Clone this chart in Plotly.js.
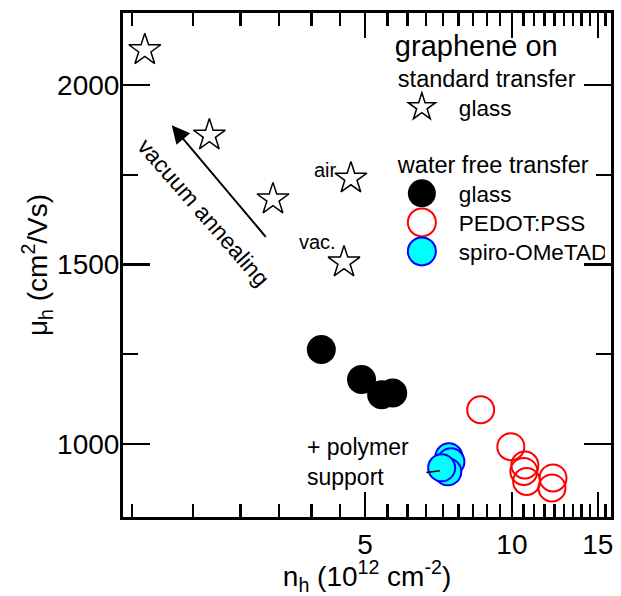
<!DOCTYPE html>
<html><head><meta charset="utf-8">
<script src="https://cdn.plot.ly/plotly-3.0.1.min.js"></script>
<style>body{margin:0;background:#fff}#chart{width:621px;height:596px}</style>
</head><body><div id="chart"></div>
<script>
// data (n_h in 1e12 cm^-2, mu_h in cm^2/Vs)
const starX = [1.77, 2.40, 3.24, 4.68, 4.53];
const starY = [2098, 1860, 1682, 1740, 1506];
const glassX = [4.07, 4.92, 5.41, 5.70];
const glassY = [1263, 1179, 1137, 1142];
const pedotX = [8.63, 9.95, 10.63, 10.58, 10.72, 12.14, 12.08];
const pedotY = [1095, 992, 941, 923, 895, 905, 877];
const spiroX = [7.43, 7.50, 7.39, 7.18];
const spiroY = [964, 950, 922, 933];

const xTickVals = [5, 10, 15];
const xTickText = ['5', '10', '15'];
const xMinorVals = [1.667, 2.222, 2.778, 3.333, 3.889, 4.444, 5.556, 6.111, 6.667, 7.222, 7.778, 8.333, 8.889, 9.444,
  10.556, 11.111, 11.667, 12.222, 12.778, 13.333, 13.889, 14.444, 15.556];
const yTickVals = [1000, 1500, 2000];
const yTickText = ['1000', '1500', '2000'];
const yMinorVals = [1250, 1750];

const FONT = 'Liberation Sans, Arial, sans-serif';
const L = Math.log10;

const traces = [
  {x: starX, y: starY, mode: 'markers', type: 'scatter', name: 'glass',
   legendgroup: 'std', legendgrouptitle: {text: 'standard transfer', font: {size: 23.5}},
   marker: {symbol: 'star', size: 24, color: 'white', line: {color: 'black', width: 1.5}}},
  {x: glassX, y: glassY, mode: 'markers', type: 'scatter', name: 'glass',
   legendgroup: 'wf', legendgrouptitle: {text: 'water free transfer', font: {size: 23.5}},
   marker: {symbol: 'circle', size: 29, color: 'black', line: {width: 0}}},
  {x: pedotX, y: pedotY, mode: 'markers', type: 'scatter', name: 'PEDOT:PSS',
   legendgroup: 'wf',
   marker: {symbol: 'circle-open', size: 27, color: '#ff0000', line: {width: 2}}},
  {x: spiroX, y: spiroY, mode: 'markers', type: 'scatter', name: 'spiro-OMeTAD',
   legendgroup: 'wf',
   marker: {symbol: 'circle', size: 27, color: '#00ffff', line: {color: '#0000ff', width: 2}}}
];

const axisCommon = {
  ticks: 'inside', tickwidth: 2.5, tickcolor: 'black', showline: true, linewidth: 3,
  linecolor: 'black', mirror: 'allticks', showgrid: false, zeroline: false,
  tickfont: {size: 28, color: 'black', family: FONT}
};

const layout = {
  width: 621, height: 596,
  margin: {l: 123, r: 10, t: 13, b: 79},
  paper_bgcolor: 'white', plot_bgcolor: 'white',
  font: {family: FONT, color: 'black'},
  showlegend: true,
  legend: {
    x: 0.553, y: 0.99, xanchor: 'left', yanchor: 'top',
    bgcolor: 'rgba(0,0,0,0)', font: {size: 22.5},
    title: {text: 'graphene on', font: {size: 29}},
    traceorder: 'grouped', tracegroupgap: 30, itemsizing: 'trace', itemwidth: 48
  },
  xaxis: Object.assign({}, axisCommon, {
    type: 'log', range: [L(1.597), L(15.96)],
    tickmode: 'array', tickvals: xTickVals, ticktext: xTickText, ticklen: 25,
    minor: {tickmode: 'array', tickvals: xMinorVals, ticklen: 13, tickwidth: 2.5, tickcolor: 'black', ticks: 'inside'},
    title: {text: 'n<sub>h</sub> (10<sup>12</sup> cm<sup>-2</sup>)', font: {size: 28}, standoff: 6}
  }),
  yaxis: Object.assign({}, axisCommon, {
    range: [796, 2201],
    tickmode: 'array', tickvals: yTickVals, ticktext: yTickText, ticklen: 27,
    ticklabelstandoff: -5,
    minor: {tickmode: 'array', tickvals: yMinorVals, ticklen: 15, tickwidth: 2.5, tickcolor: 'black', ticks: 'inside'},
    title: {text: 'μ<sub>h</sub> (cm<sup>2</sup>/Vs)', font: {size: 28}, standoff: 0}
  }),
  annotations: [
    {x: L(4.16), y: 1763, xref: 'x', yref: 'y', text: 'air', showarrow: false, font: {size: 20}},
    {x: L(4.00), y: 1564, xref: 'x', yref: 'y', text: 'vac.', showarrow: false, font: {size: 20}},
    {x: L(2.33), y: 1645, xref: 'x', yref: 'y', text: 'vacuum annealing', showarrow: false,
     textangle: 49, font: {size: 23}},
    {x: L(2.01), y: 1888, xref: 'x', yref: 'y', axref: 'x', ayref: 'y', ax: L(3.15), ay: 1573,
     text: '', showarrow: true, arrowhead: 2, arrowsize: 1.8, arrowwidth: 2, arrowcolor: 'black', standoff: 0},
    {x: L(3.76), y: 950, xref: 'x', yref: 'y', xanchor: 'left', align: 'left',
     text: '+ polymer<br>support', showarrow: false, font: {size: 23}},
    {x: L(7.12), y: 925, xref: 'x', yref: 'y', ax: -15, ay: 2, text: '', showarrow: true,
     arrowhead: 0, arrowwidth: 1.5, arrowcolor: 'black', standoff: 0}
  ]
};

Plotly.newPlot('chart', traces, layout, {staticPlot: true, displayModeBar: false}).then(function (gd) {
  // enlarge legend symbols to match the marker size of the original figure
  gd.querySelectorAll('.legendpoints path.scatterpts').forEach(function (p, i) {
    const t = p.getAttribute('transform') || '';
    p.setAttribute('transform', t + (i === 0 ? ' scale(1.28)' : ' scale(1.75)'));
    p.setAttribute('vector-effect', 'non-scaling-stroke');
    p.style.vectorEffect = 'non-scaling-stroke';
  });
  // tighten legend row spacing and indent entry text a little
  const items = Array.from(gd.querySelectorAll('.legend g.traces'));
  if (items.length) {
    const ys = items.map(function (el) { const r = el.getBoundingClientRect(); return r.top + r.height / 2; });
    items.forEach(function (el, i) {
      const dy = (ys[i] - ys[0]) * -0.1;
      el.setAttribute('transform', 'translate(0,' + dy.toFixed(2) + ') ' + (el.getAttribute('transform') || ''));
      if (el.querySelector('path.scatterpts')) {
        const txt = el.querySelector('text.legendtext');
        if (txt) txt.setAttribute('x', (parseFloat(txt.getAttribute('x') || 0) + 8).toString());
      }
    });
  }
});
</script>
</body></html>
